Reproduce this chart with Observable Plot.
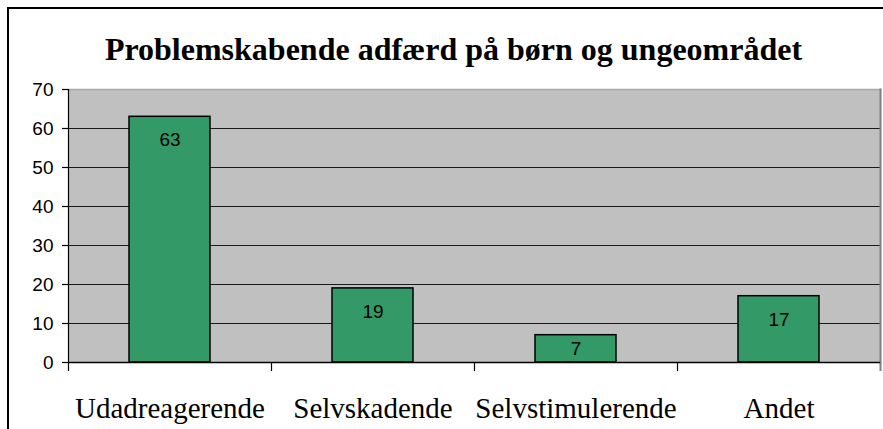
<!DOCTYPE html>
<html>
<head>
<meta charset="utf-8">
<script src="https://cdn.jsdelivr.net/npm/d3@7"></script>
<script src="https://cdn.jsdelivr.net/npm/@observablehq/plot@0.6"></script>
<style>
  html, body { margin: 0; padding: 0; background: #fff; overflow: hidden; }
  #wrap { position: relative; width: 883px; height: 429px; }
  #border { position: absolute; left: 7px; top: 7px; width: 1000px; height: 1000px; border-left: 2px solid #000; border-top: 2px solid #000; box-sizing: border-box; pointer-events: none; }
  #chart { position: absolute; left: 0; top: 0; }
</style>
</head>
<body>
<div id="wrap">
  <div id="chart"></div>
  <div id="border"></div>
</div>
<script>
const title = "Problemskabende adfærd på børn og ungeområdet";
const categories = ["Udadreagerende", "Selvskadende", "Selvstimulerende", "Andet"];
const values = [63, 19, 7, 17];
const yTicks = [0, 10, 20, 30, 40, 50, 60, 70];

const data = categories.map((c, i) => ({category: c, value: values[i]}));

const W = 883, H = 429, mL = 68, mR = 3, mT = 89, mB = 67;
const step = (W - mL - mR) / categories.length;
const serif = "'Liberation Serif', 'Times New Roman', serif";
const sans = "'Liberation Sans', Arial, sans-serif";

const chart = Plot.plot({
  width: W,
  height: H,
  marginLeft: mL,
  marginRight: mR,
  marginTop: mT,
  marginBottom: mB,
  style: {background: "transparent", overflow: "visible"},
  x: {domain: categories, paddingInner: 0.6, paddingOuter: 0.3, label: null},
  y: {domain: [0, 70], label: null},
  marks: [
    Plot.frame({fill: "#C0C0C0", stroke: null}),
    Plot.gridY(yTicks, {stroke: "#1a1a1a", strokeOpacity: 1, strokeWidth: 1}),
    Plot.frame({anchor: "top", stroke: "#a8a8a8", strokeWidth: 1.5}),
    Plot.frame({anchor: "right", stroke: "#808080", strokeWidth: 2}),
    Plot.ruleX([categories[categories.length - 1]], {x: d => d, y1: 0, y2: 0, dx: step / 2, insetBottom: -9, stroke: "#808080", strokeWidth: 2}),
    Plot.barY(data, {x: "category", y: "value", fill: "#339966", stroke: "#000", strokeWidth: 1.5}),
    Plot.text(data, {
      x: "category",
      y: d => Math.max(d.value - 6, d.value / 2),
      text: d => String(d.value),
      fontSize: 19,
      fontFamily: sans,
      fill: "#000",
      lineAnchor: "middle"
    }),
    Plot.ruleY([0], {stroke: "#000", strokeWidth: 1.5}),
    Plot.ruleX(categories, {x: d => d, y1: 0, y2: 0, dx: -step / 2, insetBottom: -9, stroke: "#000", strokeWidth: 1.2}),
    Plot.frame({anchor: "left", stroke: "#000", strokeWidth: 1.2}),
    Plot.axisY(yTicks, {
      tickSize: 6,
      tickPadding: 9,
      fontSize: 19,
      fontFamily: sans,
      stroke: "#000",
      strokeWidth: 1.2,
      color: "#000",
      label: null
    }),
    Plot.axisX({
      tickSize: 0,
      tickPadding: 35,
      fontSize: 29,
      fontFamily: serif,
      color: "#000",
      label: null
    }),
    Plot.text([title], {
      frameAnchor: "top",
      text: d => d,
      dx: -21,
      dy: -30,
      lineAnchor: "bottom",
      fontSize: 32,
      fontWeight: "bold",
      fontFamily: serif,
      fill: "#000"
    })
  ]
});
document.getElementById("chart").appendChild(chart);
</script>
</body>
</html>
